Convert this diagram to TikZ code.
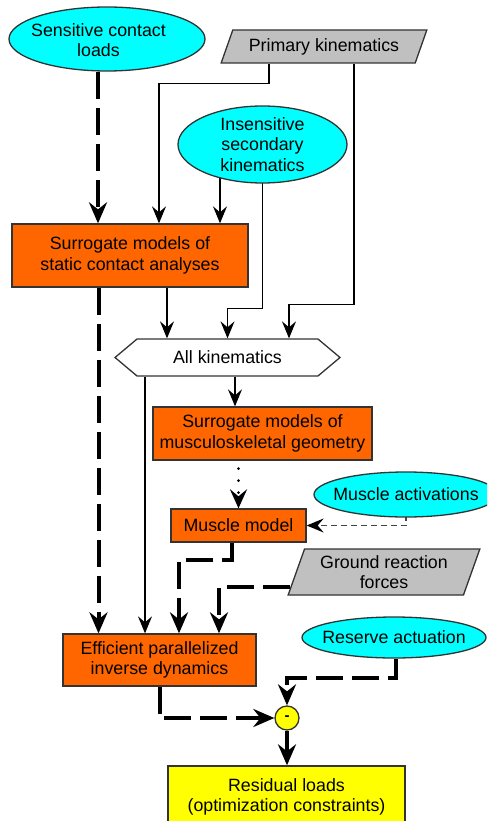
\documentclass[tikz,border=0pt]{standalone}
\usepackage{fontspec}
\setmainfont{Liberation Sans}
\usetikzlibrary{arrows.meta,shapes.geometric,shapes.symbols,backgrounds}
\definecolor{cyanfill}{HTML}{00FFFF}
\definecolor{orangefill}{HTML}{FF6600}
\definecolor{greyfill}{HTML}{C0C0C0}
\definecolor{yellowfill}{HTML}{FFFF00}
\definecolor{edgecol}{HTML}{333333}
\definecolor{dashgrey}{HTML}{444444}
\begin{document}
\begin{tikzpicture}[x=1pt,y=-1pt,
  every node/.style={font=\fontsize{17.8}{20.5}\selectfont, align=center, inner sep=0pt},
  shapeline/.style={draw=edgecol, line width=1.3pt},
  ovalbox/.style={shapeline, ellipse, fill=cyanfill},
  txt/.style={draw=none, fill=none},
  procbox/.style={shapeline, rectangle, fill=orangefill},
  resbox/.style={shapeline, rectangle, fill=yellowfill},
  databox/.style={shapeline, trapezium, trapezium stretches=true, fill=greyfill},
  hexbox/.style={shapeline, signal, signal to=west and east, signal pointer angle=80, fill=white},
  thinarrow/.style={line width=1.3pt, -{Stealth[length=17pt,width=14pt,inset=6pt]}},
  thickarrow/.style={line width=4pt, dash pattern=on 27pt off 9pt, -{Stealth[length=21pt,width=18pt,inset=7pt]}},
  dotarrow/.style={line width=3pt, line cap=round, dash pattern=on 0pt off 12pt, dash phase=4pt, -{Stealth[length=19pt,width=17pt,inset=7pt]}},
  greydash/.style={draw=dashgrey, line width=1.3pt, dash pattern=on 6pt off 4pt, -{Stealth[length=17pt,width=14pt,inset=6pt,color=black]}},
]
\useasboundingbox (0,0) rectangle (487,821);
\clip (0,0) rectangle (487,821);

% nodes
\node[ovalbox, minimum width=196pt, minimum height=64pt] (scl) at (107,39) {};
\node[txt] (sclt) at (98.5,40) {Sensitive contact\\loads};
\node[databox, trapezium left angle=60, trapezium right angle=120, minimum width=206pt, minimum height=33pt] (pk) at (324,46.5) {Primary kinematics};
\node[ovalbox, minimum width=169pt, minimum height=77pt] (isk) at (262.5,144.5) {};
\node[txt] (iskt) at (isk.center) {Insensitive\\secondary\\kinematics};
\node[procbox, minimum width=236pt, minimum height=63pt] (ssca) at (130,255.5) {Surrogate models of\\static contact analyses};
\node[hexbox, minimum width=225pt, minimum height=37pt] (ak) at (227.5,357.5) {All kinematics};
\node[procbox, minimum width=219pt, minimum height=53pt] (smg) at (262.5,433.5) {Surrogate models of\\musculoskeletal geometry};
\node[procbox, minimum width=135pt, minimum height=33pt] (mm) at (238.5,525.5) {Muscle model};
\node[ovalbox, minimum width=184pt, minimum height=45pt] (ma) at (406,494.5) {};
\node[txt] (mat) at (ma.center) {Muscle activations};
\node[databox, trapezium left angle=68.6, trapezium right angle=111.4, minimum width=192pt, minimum height=46pt] (grf) at (384,572) {Ground reaction\\forces};
\node[procbox, minimum width=193pt, minimum height=52pt] (eid) at (159.5,660) {Efficient parallelized\\inverse dynamics};
\node[ovalbox, minimum width=184pt, minimum height=41pt] (ra) at (394,637.5) {};
\node[txt] (rat) at (ra.center) {Reserve actuation};
\node[shapeline, circle, fill=yellowfill, minimum size=24pt, font=\bfseries\fontsize{15}{16}\selectfont] (minus) at (287,718) {-};
\node[resbox, minimum width=237pt, minimum height=62pt] (res) at (286.5,797) {Residual loads\\(optimization constraints)};

% connectors
\begin{scope}[on background layer]
\fill[white] (0,0) rectangle (487,821);
\draw[thickarrow] ([xshift=-9pt]scl.south) -- ([xshift=-32pt]ssca.north);
\draw[thinarrow] ([xshift=-55pt]pk.south) -- ++(0,20) -| ([xshift=29pt]ssca.north);
\draw[thinarrow] ([xshift=-42.5pt]isk.center) -- ([xshift=90pt]ssca.north);
\draw[thinarrow] (isk.center) |- ([yshift=30pt]ak.north) -- (ak.north);
\draw[thinarrow] ([xshift=30pt]pk.south) |- ([xshift=61.5pt,yshift=34pt]ak.north) -- ([xshift=61.5pt]ak.north);
\draw[thinarrow] ([xshift=37pt]ssca.south) -- ([xshift=-60.5pt]ak.north);
\draw[thinarrow] ([xshift=7.5pt]ak.south) -- ([xshift=-27.5pt]smg.north);
\draw[dotarrow] ([xshift=-24pt]smg.south) -- (mm.north);
\draw[greydash] (ma.center) |- (mm.east);
\draw[thinarrow] ([xshift=-82.5pt]ak.south) -- ([xshift=-14.5pt]eid.north);
\draw[thickarrow] ([xshift=-6.5pt]mm.south) -- ++(0,17) -| ([xshift=19.5pt]eid.north);
\draw[thickarrow] ([xshift=-6pt,yshift=-15pt]grf.west) -| ([xshift=59.5pt]eid.north);
\draw[thickarrow] ([xshift=-31.5pt]ssca.south) -- ([xshift=-61pt]eid.north);
\draw[thickarrow] (eid.south) |- (minus.west);
\draw[thickarrow] ([xshift=2pt]ra.south) -- ++(0,19) -| (minus.north);
\draw[thickarrow, solid] (minus.south) -- (minus.south |- res.north);
\end{scope}
\end{tikzpicture}
\end{document}
